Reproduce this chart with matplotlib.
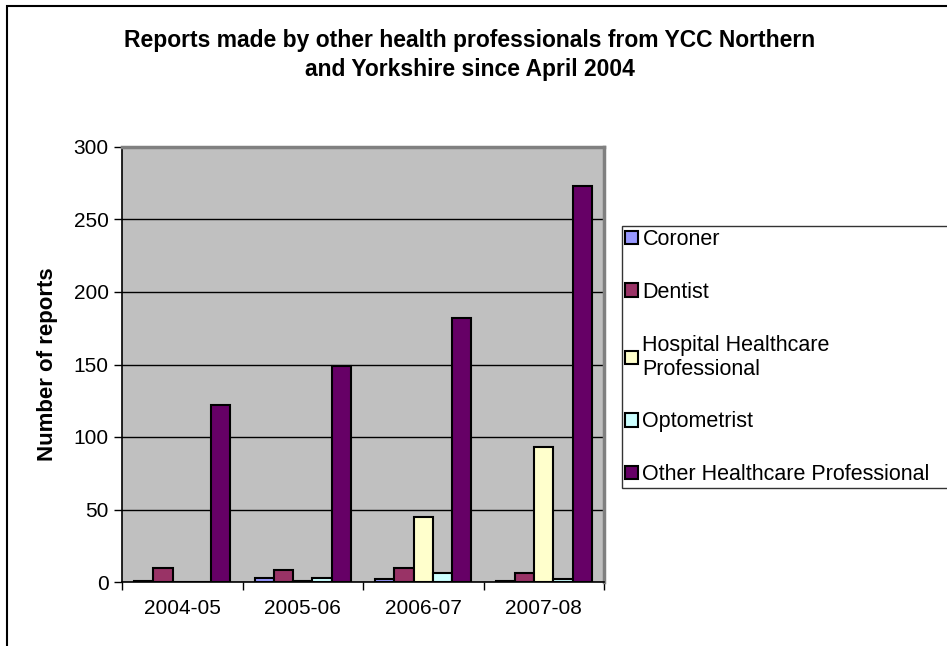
import numpy as np
import matplotlib.pyplot as plt
from matplotlib.patches import Rectangle

plt.rcParams['font.family'] = ['Liberation Sans', 'DejaVu Sans']

years = ['2004-05', '2005-06', '2006-07', '2007-08']
series_names = ['Coroner', 'Dentist', 'Hospital Healthcare\nProfessional',
                'Optometrist', 'Other Healthcare Professional']
coroner = [1, 3, 2, 1]
dentist = [10, 8, 10, 6]
hospital = [0, 1, 45, 93]
optometrist = [0, 3, 6, 2]
other = [122, 149, 182, 273]
colors = ['#9999FF', '#993366', '#FFFFCC', '#CCFFFF', '#660066']

W, H = 947, 646
fig = plt.figure(figsize=(W / 100, H / 100), dpi=100)
ax = fig.add_axes([122 / W, 1 - 582 / H, (604 - 122) / W, (582 - 147) / H])
ax.set_facecolor('#C0C0C0')

x = np.arange(len(years))
width = 0.16
handles = []
for i, (vals, name, c) in enumerate(zip([coroner, dentist, hospital, optometrist, other],
                                         series_names, colors)):
    b = ax.bar(x + (i - 2) * width, vals, width, color=c, edgecolor='black',
               linewidth=1.5, label=name, zorder=3)
    handles.append(b)

ax.set_xlim(-0.5, 3.5)
ax.set_ylim(0, 300)
ax.set_yticks(range(0, 301, 50))
ax.yaxis.grid(True, color='black', linewidth=1, zorder=1)
ax.set_axisbelow(True)

# category labels centred, tick marks between groups
ax.set_xticks(x)
ax.set_xticklabels(years, fontsize=15)
ax.tick_params(axis='x', which='major', length=0, pad=12)
ax.set_xticks(np.arange(-0.5, 4, 1), minor=True)
ax.tick_params(axis='x', which='minor', length=6, width=1, direction='out')
ax.tick_params(axis='y', labelsize=15, length=6, width=1, direction='out')

for side in ['top', 'right']:
    ax.spines[side].set_color('#808080')
    ax.spines[side].set_linewidth(2.5)
for side in ['left', 'bottom']:
    ax.spines[side].set_color('black')
    ax.spines[side].set_linewidth(1.2)

ax.set_ylabel('Number of reports', fontsize=16, fontweight='bold', labelpad=11)

fig.text(470 / W, 1 - 55 / H,
         'Reports made by other health professionals from YCC Northern\nand Yorkshire since April 2004',
         ha='center', va='center', fontsize=16.5, fontweight='bold', linespacing=1.35)

leg = fig.legend(handles=handles, loc='upper left',
                 bbox_to_anchor=(622 / W, 1 - 226 / H, 0.4, 0), mode='expand',
                 fontsize=15.5, frameon=True, fancybox=False, edgecolor='black',
                 handlelength=0.6, handleheight=0.6, handletextpad=0.2,
                 labelspacing=1.47, borderpad=0.15, borderaxespad=0)
leg.get_frame().set_linewidth(1)

# outer chart border (cut off on right and bottom)
fig.patches.append(Rectangle((7 / W, -0.1), 1.2, 1.1 - 6 / H, transform=fig.transFigure,
                             fill=False, edgecolor='black', linewidth=1.5))

fig.savefig('out.png', dpi=100)
